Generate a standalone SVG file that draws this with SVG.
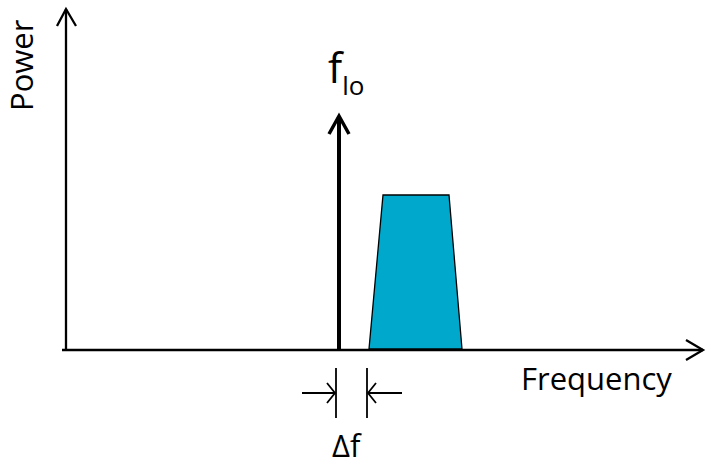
<svg xmlns="http://www.w3.org/2000/svg" width="711" height="469" viewBox="0 0 711 469">
<style>
text{font-family:"Open Sans","Noto Sans",sans-serif;fill:#000}
.ax{stroke:#000;stroke-width:2.3;fill:none}
.thin{stroke:#000;stroke-width:1.8;fill:none}
</style>
<rect width="711" height="469" fill="#fff"/>
<g id="connectors">
<line class="ax" x1="66" y1="351" x2="66" y2="9"/>
<polyline class="ax" points="57,26 66,9 76,26"/>
<line class="ax" x1="62" y1="350" x2="703" y2="350"/>
<polyline class="ax" points="686,340 703,350 686,360"/>
</g>
<g id="band">
<polygon points="369,349 383,195 449,195 462,349" fill="#00A8CC" stroke="#000" stroke-width="1.3"/>
</g>
<g id="flo">
<line x1="339" y1="350" x2="339" y2="116" stroke="#000" stroke-width="4"/>
<polyline points="329,134 339,116 349,134" fill="none" stroke="#000" stroke-width="3.5"/>
<text x="328" y="83" font-size="42">f<tspan font-size="26" dy="12">lo</tspan></text>
</g>
<g id="deltaf">
<line class="thin" x1="336" y1="368" x2="336" y2="418"/>
<line class="thin" x1="367" y1="368" x2="367" y2="418"/>
<line class="thin" x1="302" y1="393" x2="335" y2="393"/>
<polyline class="thin" points="327,383 335,393 327,403"/>
<line class="thin" x1="402" y1="393" x2="368" y2="393"/>
<polyline class="thin" points="376,383 368,393 376,403"/>
<text x="332" y="457" font-size="31">Δf</text>
</g>
<g id="labels">
<text x="521" y="390" font-size="31">Frequency</text>
<text transform="translate(33,111) rotate(-90)" font-size="31">Power</text>
</g>
</svg>
